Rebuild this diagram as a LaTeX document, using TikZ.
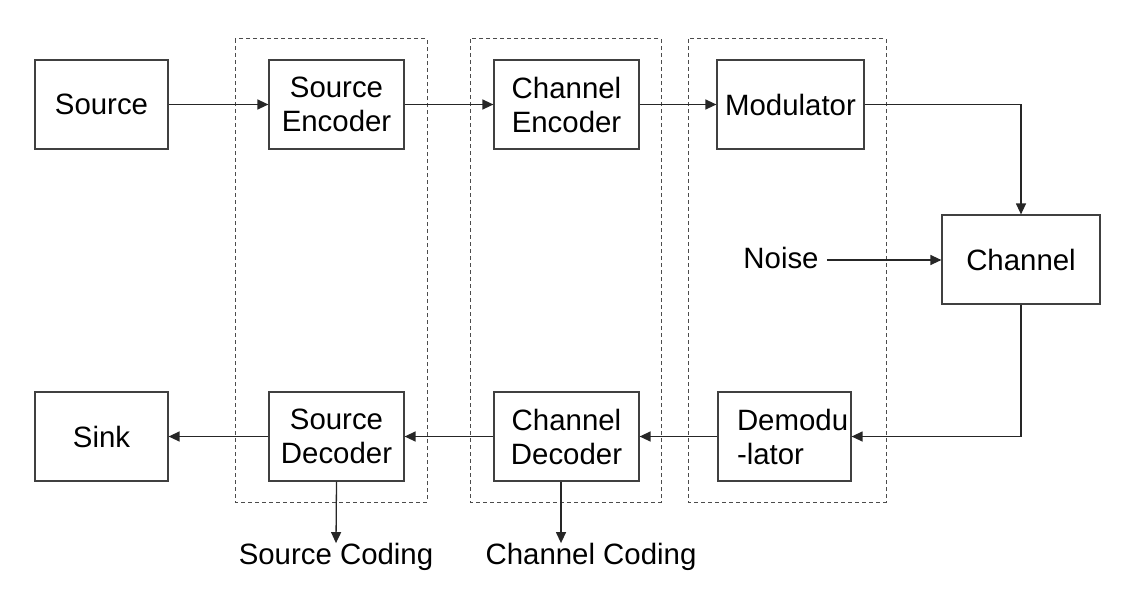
\documentclass[tikz,border=0pt]{standalone}
\usepackage{fontspec}
\setmainfont{Liberation Sans}
\usetikzlibrary{arrows.meta, calc}

\begin{document}
\begin{tikzpicture}[x=1pt,y=-1pt,
    blk/.style={draw=black!75, line width=1.2pt, minimum height=89pt, align=center,
                font=\fontsize{29.4}{34}\selectfont, inner sep=0pt},
    grp/.style={draw=black!70, line width=1pt, dash pattern=on 4pt off 3pt},
    lbl/.style={font=\fontsize{29.4}{34}\selectfont, inner sep=0pt},
    flow/.style={draw=black!85, line width=1.3pt, -{Triangle[length=11pt,width=10pt]}}]
  \useasboundingbox (0,0) rectangle (1123,602);

  % groups
  \draw[grp] (235,39) rectangle (427,502);
  \draw[grp] (470,39) rectangle (661,502);
  \draw[grp] (688,39) rectangle (886,502);

  % upper row
  \node[blk, minimum width=133pt] (src)    at (101.5,104.5) {Source};
  \node[blk, minimum width=135pt] (srcenc) at (336.5,104.5) {Source\\Encoder};
  \node[blk, minimum width=145pt] (chenc)  at (566.5,104.5) {Channel\\Encoder};
  \node[blk, minimum width=147pt] (mod)    at (790.5,104.5) {Modulator};

  % channel + noise
  \node[blk, minimum width=158pt] (chan)   at (1021,259.5) {Channel};
  \node[lbl] (noise) at (781,258) {Noise};

  % lower row
  \node[blk, text width=133pt, align=left] (demod) at (784.5,436.5)
    {\hspace*{19pt}Demodu\\\hspace*{19pt}-lator};
  \node[blk, minimum width=145pt] (chdec)  at (566.5,436.5) {Channel\\Decoder};
  \node[blk, minimum width=135pt] (srcdec) at (336.5,436.5) {Source\\Decoder};
  \node[blk, minimum width=133pt] (sink)   at (101.5,436.5) {Sink};

  % outputs
  \node[lbl] (srccod) at (336,557) {Source Coding};
  \node[lbl] (chcod)  at (591,557) {Channel Coding};

  % connections
  \draw[flow] (src) -- (srcenc);
  \draw[flow] (srcenc) -- (chenc);
  \draw[flow] (chenc) -- (mod);
  \draw[flow] (mod.east) -| (chan.north);
  \draw[flow] (noise.east) ++(8,2) coordinate (n0) (n0) -- (n0 -| chan.west);
  \draw[flow] (chan.south) |- (demod.east);
  \draw[flow] (demod) -- (chdec);
  \draw[flow] (chdec) -- (srcdec);
  \draw[flow] (srcdec) -- (sink);
  \draw[flow] (srcdec.south) -- (srccod.north);
  \draw[flow] ($(chdec.south)+(-5.5,0)$) coordinate (c0) -- (c0 |- chcod.north);
\end{tikzpicture}
\end{document}
